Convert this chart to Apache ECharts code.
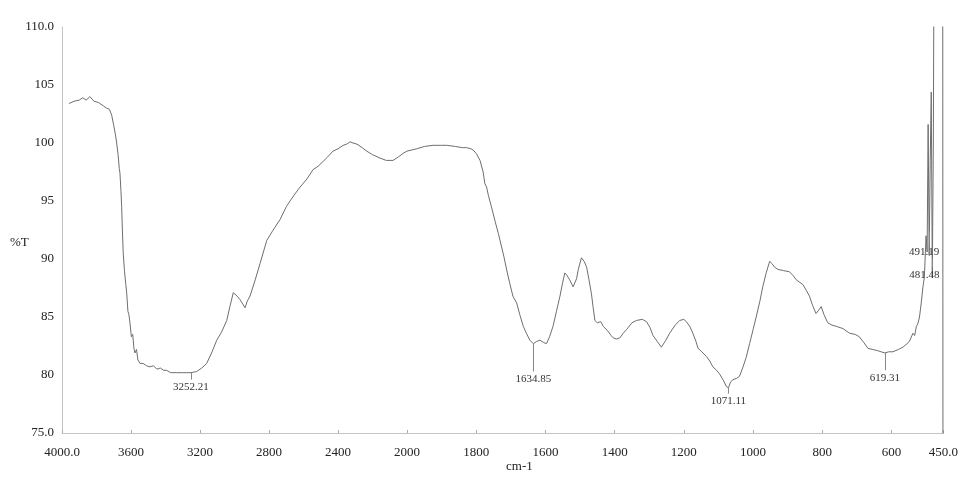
<!DOCTYPE html>
<html>
<head>
<meta charset="utf-8">
<script src="https://cdn.jsdelivr.net/npm/echarts@6/dist/echarts.min.js"></script>
<style>
  html, body { margin: 0; padding: 0; background: #fff; }
  #chart { width: 961px; height: 478px; }
</style>
</head>
<body>
<div id="chart"></div>
<script>
// wavenumber (cm-1) and %T
var wavenumbers = [3960,3930,3900,3880,3860,3838,3815,3790,3760,3741,3725,3712,3700,3690,3683,3675,3668,3664,3658,3654,3650,3645,3638,3630,3625,3618,3612,3606,3598,3590,3583,3577,3568,3560,3548,3530,3510,3490,3470,3450,3430,3410,3393,3370,3335,3300,3277,3252,3219,3190,3161,3130,3103,3075,3045,3025,3007,2985,2968,2939,2925,2910,2880,2852,2813,2780,2736,2700,2678,2650,2620,2580,2545,2515,2487,2460,2429,2400,2370,2350,2330,2313,2290,2260,2234,2200,2157,2120,2081,2050,2023,2000,
  1972,1950,1925,1900,1885,1860,1840,1828,1815,1809,1800,1789,1780,1775,1770,1765,1756,1745,1736,1720,1710,1703,1694,1683,1674,1664,1655,1645,1635,1625,1616,1605,1597,1588,1578,1568,1558,1550,1544,1538,1530,1520,1515,1510,1505,1496,1488,1481,1474,1467,1462,1457,1450,1440,1433,1420,1410,1404,1395,1385,1375,1366,1350,1337,1320,1308,1298,1289,1277,1265,1252,1241,1225,1212,1200,1193,1183,1174,1165,1159,1148,1135,1125,1116,1105,1097,1085,1077,1071,1065,1058,1048,1039,1029,1020,1010,1000,991,980,972,962,952,945,938,928,912,895,885,875,856,846,837,828,818,810,803,795,784,772,760,740,721,705,693,680,668,654,640,630,619,608,596,580,567,555,548,538,533,528,524,519,514,509,505,500,497,494,491,488,485,482,479,476,470,460,452,451];
var transmittance = [103.4,103.6,103.7,103.9,103.7,104.0,103.6,103.5,103.2,103.0,102.9,102.4,101.5,100.7,100.0,99.0,97.8,97.4,95.8,94.5,92.5,90.5,89.0,87.8,87.1,85.5,85.2,84.5,83.3,83.5,82.3,81.9,82.2,81.3,81.0,81.0,80.8,80.7,80.8,80.5,80.6,80.4,80.4,80.2,80.2,80.2,80.2,80.2,80.3,80.6,81.0,82.0,83.0,83.7,84.7,86.0,87.1,86.8,86.5,85.8,86.4,86.8,88.2,89.6,91.6,92.4,93.4,94.5,95.0,95.6,96.2,96.9,97.7,98.0,98.4,98.8,99.3,99.5,99.8,99.9,100.1,100.0,99.9,99.6,99.3,99.0,98.7,98.5,98.5,98.8,99.1,99.3,
  99.5,99.7,99.8,99.8,99.8,99.7,99.6,99.6,99.5,99.4,99.1,98.5,97.5,96.5,96.2,95.5,94.5,93.2,92.2,90.2,88.8,87.9,86.8,86.2,85.2,84.2,83.6,83.0,82.7,82.9,83.0,82.8,82.7,83.3,84.2,85.5,86.8,88.0,88.8,88.6,88.2,87.6,87.5,88.3,89.1,90.1,89.8,89.3,88.2,87.0,85.8,84.7,84.5,84.6,84.2,83.8,83.4,83.2,83.1,83.2,83.6,83.9,84.5,84.7,84.8,84.6,84.1,83.4,82.9,82.4,83.0,83.6,84.3,84.7,84.8,84.6,84.2,83.6,82.9,82.3,82.0,81.6,81.2,80.7,80.4,80.1,79.5,79.0,78.9,79.4,79.6,79.7,79.9,80.7,81.5,82.7,83.9,85.0,86.4,87.6,88.8,89.8,89.6,89.3,89.1,89.0,88.9,88.6,88.2,87.8,87.3,86.8,86.0,85.3,85.6,85.9,85.2,84.5,84.3,84.2,84.0,83.6,83.5,83.3,82.8,82.3,82.2,82.1,82.0,81.9,82.0,82.0,82.2,82.4,82.7,82.9,83.6,83.4,84.2,84.4,85.0,86.2,87.6,88.4,92.0,90.6,101.6,90.3,98.5,104.4,88.4,100.0,125,125,125,125,60];

// labelled peaks: position, %T at the peak, %T where the tick ends
var peakNames = ['3252.21', '1634.85', '1071.11', '619.31', '491.19', '481.48'];
var peakTop = [80.2, 82.7, 78.9, 81.9, 92.4, 90.0];
var peakEnd = [79.6, 80.3, 78.4, 80.4, 91.2, 89.3];
var peakShift = [0, 0, 0, 0, -5, -8];

var xTicksLeft = [4000, 3600, 3200, 2800, 2400, 2000];
var xTicksRight = [2000, 1800, 1600, 1400, 1200, 1000, 800, 600, 450];

var serif = 'Liberation Serif';
var lineColor = '#6e6e6e';

function pairs(lo, hi) {
  var out = [];
  for (var i = 0; i < wavenumbers.length; i++) {
    if (wavenumbers[i] >= lo && wavenumbers[i] <= hi) out.push([wavenumbers[i], transmittance[i]]);
  }
  return out;
}

function peakLines(lo, hi) {
  var out = [];
  for (var i = 0; i < peakNames.length; i++) {
    var w = parseFloat(peakNames[i]);
    if (w >= lo && w <= hi) {
      out.push([
        { coord: [w, peakTop[i]], name: peakNames[i] },
        { coord: [w, peakEnd[i]], label: { offset: [peakShift[i], 0] } }
      ]);
    }
  }
  return out;
}

var markLineStyle = {
  silent: true,
  symbol: ['none', 'none'],
  lineStyle: { color: '#888', width: 1, type: 'solid' },
  label: { show: true, position: 'end', formatter: '{b}', fontFamily: serif, fontSize: 11, color: '#333', distance: 2 },
  animation: false
};

function xAxisBase(grid, ticks, lo, hi, fmt) {
  return {
    type: 'value', gridIndex: grid, inverse: true, min: lo, max: hi,
    axisLine: { show: true, lineStyle: { color: '#c4c4c4', width: 1 } },
    axisTick: { show: true, inside: true, length: 3, customValues: ticks, lineStyle: { color: '#aaa' } },
    axisLabel: { customValues: ticks, formatter: fmt, fontFamily: serif, fontSize: 13, color: '#222', margin: 13 },
    splitLine: { show: false }
  };
}

var option = {
  backgroundColor: '#fff',
  animation: false,
  grid: [
    { left: 62, top: 27, width: 345, height: 406 },
    { left: 407, top: 27, width: 537, height: 406 }
  ],
  xAxis: [
    xAxisBase(0, xTicksLeft, 2000, 4000, function (v) { return v === 4000 ? '4000.0' : (v === 2000 ? '' : String(v)); }),
    xAxisBase(1, xTicksRight, 450, 2000, function (v) { return v === 450 ? '450.0' : String(v); })
  ],
  yAxis: [
    {
      type: 'value', gridIndex: 0, min: 75, max: 110, interval: 5,
      axisLine: { show: true, lineStyle: { color: '#c4c4c4', width: 1 } },
      axisTick: { show: false },
      splitLine: { show: false },
      axisLabel: {
        fontFamily: serif, fontSize: 13, color: '#222', margin: 8,
        formatter: function (v) { return (v === 110 || v === 75) ? v.toFixed(1) : String(v); }
      }
    },
    { type: 'value', gridIndex: 1, min: 75, max: 110, show: false }
  ],
  graphic: [
    { type: 'text', left: 10, top: 236, style: { text: '%T', font: '13px "Liberation Serif"', fill: '#222' } },
    { type: 'text', left: 506, top: 460, style: { text: 'cm-1', font: '13px "Liberation Serif"', fill: '#222' } }
  ],
  series: [
    {
      type: 'line', xAxisIndex: 0, yAxisIndex: 0, data: pairs(2000, 4000),
      showSymbol: false, lineStyle: { color: lineColor, width: 1 },
      markLine: Object.assign({ data: peakLines(2000, 4000) }, markLineStyle)
    },
    {
      type: 'line', xAxisIndex: 1, yAxisIndex: 1, data: pairs(0, 2000),
      showSymbol: false, lineStyle: { color: lineColor, width: 1 },
      markLine: Object.assign({ data: peakLines(0, 1999) }, markLineStyle)
    }
  ]
};

var myChart = echarts.init(document.getElementById('chart'));
myChart.setOption(option);
window.addEventListener('resize', function () {
  myChart.resize();
});
</script>
</body>
</html>
